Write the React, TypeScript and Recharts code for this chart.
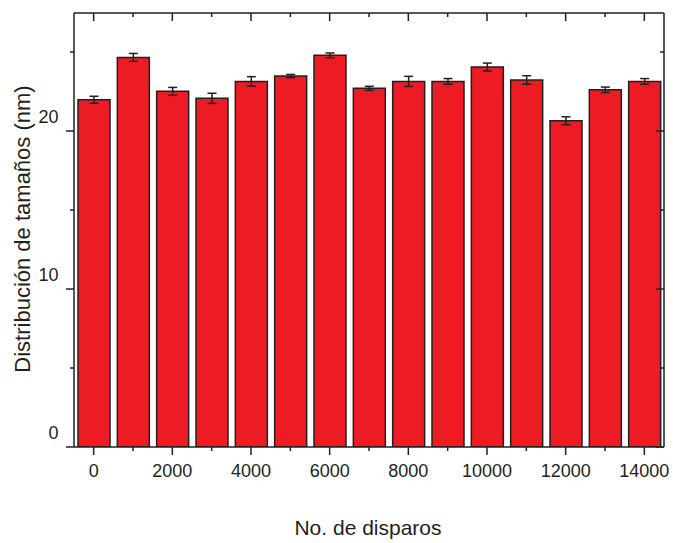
import React from "react";
import { BarChart, Bar, XAxis, YAxis, ErrorBar } from "recharts";

// Number of laser shots (x categories)
const shots = [0, 1000, 2000, 3000, 4000, 5000, 6000, 7000, 8000, 9000, 10000, 11000, 12000, 13000, 14000];
// Mean particle size (nm) and its error
const sizes = [21.98, 24.66, 22.51, 22.07, 23.14, 23.48, 24.79, 22.7, 23.14, 23.14, 24.05, 23.23, 20.65, 22.61, 23.14];
const sizeErrors = [0.22, 0.25, 0.25, 0.32, 0.3, 0.1, 0.15, 0.13, 0.32, 0.18, 0.25, 0.27, 0.25, 0.17, 0.18];

// Axis ticks
const xMajorTicks = [0, 2000, 4000, 6000, 8000, 10000, 12000, 14000];
const xMinorTicks = [1000, 3000, 5000, 7000, 9000, 11000, 13000];
const yMajorTicks = [0, 10, 20];
const yMinorTicks = [5, 15, 25];
const xDomain = [-500, 14500];
const yDomain = [0, 27.47];

const xTitle = "No. de disparos";
const yTitle = "Distribución de tamaños (nm)";

const data = shots.map((s, i) => ({ shots: s, size: sizes[i], err: sizeErrors[i] }));
const xTicks = [...xMajorTicks, ...xMinorTicks].sort((a, b) => a - b);
const yTicks = [...yMajorTicks, ...yMinorTicks].sort((a, b) => a - b);

const INK = "#231F20";
const RED = "#ED1C24";
const FONT = "'Liberation Sans', Arial, Helvetica, sans-serif";
const MAJOR = 8;
const MINOR = 4;

function BottomTick(props: any) {
  const { x, y, payload } = props;
  const major = xMajorTicks.includes(payload.value);
  return (
    <g>
      <line x1={x} x2={x} y1={y} y2={y + (major ? MAJOR : MINOR)} stroke={INK} strokeWidth={1.5} />
      {major && (
        <text x={x} y={y + 30} textAnchor="middle" fontSize={18} fill={INK} fontFamily={FONT}>
          {payload.value}
        </text>
      )}
    </g>
  );
}

// top axis: ticks point into the plot
function TopTick(props: any) {
  const { x, y, payload } = props;
  const major = xMajorTicks.includes(payload.value);
  return <line x1={x} x2={x} y1={y} y2={y + (major ? MAJOR : MINOR)} stroke={INK} strokeWidth={1.5} />;
}

function LeftTick(props: any) {
  const { x, y, payload } = props;
  const major = yMajorTicks.includes(payload.value);
  return (
    <g>
      <line x1={x - (major ? MAJOR : MINOR)} x2={x} y1={y} y2={y} stroke={INK} strokeWidth={1.5} />
      {major && (
        <text x={x - 15.5} y={y - 8.5} textAnchor="end" fontSize={18} fill={INK} fontFamily={FONT}>
          {payload.value}
        </text>
      )}
    </g>
  );
}

// right axis: ticks point into the plot
function RightTick(props: any) {
  const { x, y, payload } = props;
  const major = yMajorTicks.includes(payload.value);
  return <line x1={x - (major ? MAJOR : MINOR)} x2={x} y1={y} y2={y} stroke={INK} strokeWidth={1.5} />;
}

function XTitle(props: any) {
  const vb = props.viewBox;
  return (
    <text x={vb.x + vb.width / 2 - 1} y={vb.y + 88} textAnchor="middle" fontSize={21} fill={INK} fontFamily={FONT}>
      {xTitle}
    </text>
  );
}

function YTitle(props: any) {
  const vb = props.viewBox;
  const cx = 29.5;
  const cy = vb.y + vb.height / 2 - 1;
  return (
    <text
      x={cx}
      y={cy}
      transform={`rotate(-90 ${cx} ${cy})`}
      textAnchor="middle"
      fontSize={22}
      fill={INK}
      fontFamily={FONT}
    >
      {yTitle}
    </text>
  );
}

const axisLine = { stroke: INK, strokeWidth: 1.5 };

export default function App() {
  return (
    <div style={{ width: 673, height: 543 }}>
      <style>{"body{margin:0}"}</style>
      <BarChart width={673} height={543} data={data} margin={{ top: 12, right: 8, bottom: 0, left: 0 }}>
        <XAxis
          xAxisId="bottom"
          dataKey="shots"
          type="number"
          domain={xDomain}
          allowDataOverflow
          ticks={xTicks}
          interval={0}
          height={96}
          tickSize={0}
          tickMargin={0}
          tickLine={false}
          axisLine={axisLine}
          tick={<BottomTick />}
          label={<XTitle />}
        />
        <XAxis
          xAxisId="top"
          orientation="top"
          dataKey="shots"
          type="number"
          domain={xDomain}
          allowDataOverflow
          ticks={xTicks}
          interval={0}
          height={1}
          tickSize={0}
          tickMargin={0}
          tickLine={false}
          axisLine={axisLine}
          tick={<TopTick />}
        />
        <YAxis
          yAxisId="left"
          type="number"
          domain={yDomain}
          allowDataOverflow
          ticks={yTicks}
          interval={0}
          width={74}
          tickSize={0}
          tickMargin={0}
          tickLine={false}
          axisLine={axisLine}
          tick={<LeftTick />}
          label={<YTitle />}
        />
        <YAxis
          yAxisId="right"
          orientation="right"
          type="number"
          domain={yDomain}
          allowDataOverflow
          ticks={yTicks}
          interval={0}
          width={1}
          tickSize={0}
          tickMargin={0}
          tickLine={false}
          axisLine={axisLine}
          tick={<RightTick />}
        />
        <Bar
          xAxisId="bottom"
          yAxisId="left"
          dataKey="size"
          barSize={32}
          fill={RED}
          stroke={INK}
          strokeWidth={1.5}
          isAnimationActive={false}
        >
          <ErrorBar dataKey="err" direction="y" width={4.5} stroke={INK} strokeWidth={1.5} isAnimationActive={false} />
        </Bar>
      </BarChart>
    </div>
  );
}
